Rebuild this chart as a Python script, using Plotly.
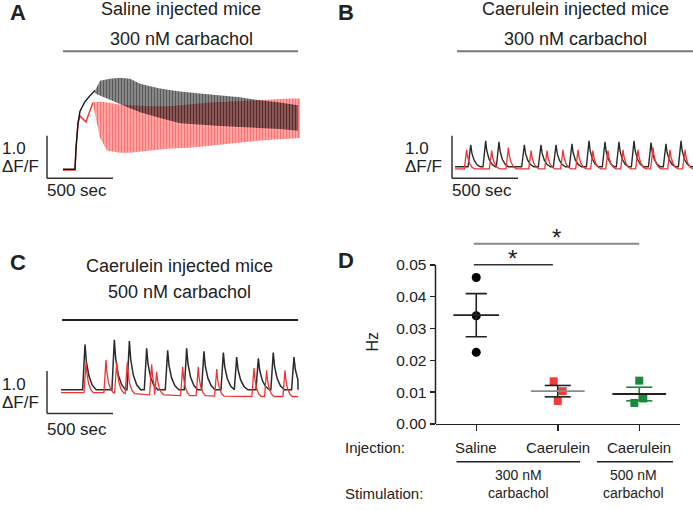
import plotly.graph_objects as go

W, H = 693, 510
def PX(x): return x / W
def PY(y): return 1 - y / H

FONT = "Liberation Sans, Arial, sans-serif"
INK = "#222222"
RED = "#f03434"
GREEN = "#178a3c"
GRAY = "#8a8a8a"
BAR_GRAY = "#777777"

# ---------------- data ----------------
# Panel A: saline-injected mice, 300 nM carbachol (time s, dF/F)
a_black_rise_t = [121, 212, 220, 235, 250, 288, 326, 364]
a_black_rise_y = [0.21, 0.21, 0.72, 1.30, 1.58, 1.81, 1.95, 2.07]
a_black_env_t = [364, 402, 477, 553, 629, 705, 856, 1008, 1159, 1311, 1462, 1614, 1765, 1902]
a_black_env_hi = [2.07, 2.30, 2.35, 2.37, 2.35, 2.23, 2.12, 2.05, 2.00, 1.95, 1.91, 1.84, 1.79, 1.72]
a_black_env_lo = [2.00, 1.95, 1.84, 1.74, 1.65, 1.56, 1.42, 1.30, 1.26, 1.23, 1.21, 1.19, 1.16, 1.12]
a_red_rise_t = [121, 212, 220, 235, 250, 273, 295, 326, 348]
a_red_rise_y = [0.19, 0.19, 0.72, 1.30, 1.47, 1.40, 1.33, 1.60, 1.79]
a_red_env_t = [348, 402, 455, 553, 629, 780, 932, 1083, 1235, 1386, 1538, 1690, 1841, 1917]
a_red_env_hi = [1.79, 1.81, 1.79, 1.74, 1.72, 1.70, 1.70, 1.74, 1.79, 1.81, 1.84, 1.86, 1.88, 1.88]
a_red_env_lo = [1.74, 0.95, 0.65, 0.60, 0.60, 0.65, 0.70, 0.72, 0.77, 0.81, 0.86, 0.91, 0.93, 0.95]

# Panel B: caerulein-injected mice, 300 nM carbachol (peak times s, peak dF/F)
b_span = [23, 1826]
b_black_peak_t = [142, 255, 356, 548, 674, 788, 909, 1038, 1159, 1265, 1379, 1508, 1621, 1735]
b_black_peak_y = [0.79, 0.88, 0.86, 0.79, 0.79, 0.79, 0.81, 0.88, 0.86, 0.86, 0.88, 0.84, 0.81, 0.88]
b_black_base = [0.27] * 14
b_red_peak_t = [111, 301, 427, 599, 720, 841, 955, 1068, 1182, 1296, 1409, 1523, 1652, 1765]
b_red_peak_y = [0.67, 0.65, 0.72, 0.65, 0.65, 0.67, 0.67, 0.65, 0.65, 0.67, 0.67, 0.72, 0.67, 0.67]
b_red_base = [0.22] * 14

# Panel C: caerulein-injected mice, 500 nM carbachol
c_span = [106, 1902]
c_black_peak_t = [288, 510, 624, 755, 914, 1058, 1189, 1336, 1437, 1601, 1714, 1871]
c_black_peak_y = [1.63, 1.74, 1.71, 1.54, 1.49, 1.54, 1.47, 1.44, 1.33, 1.30, 1.44, 1.33]
c_black_base = [0.56] * 12
c_red_peak_t = [296, 447, 528, 608, 793, 831, 1028, 1146, 1286, 1568, 1664, 1803]
c_red_peak_y = [1.21, 1.26, 1.21, 1.21, 1.16, 0.98, 1.10, 1.10, 1.05, 1.07, 1.02, 1.02]
c_red_base = [0.49, 0.49, 0.48, 0.47, 0.44, 0.44, 0.42, 0.42, 0.41, 0.40, 0.40, 0.40]

# Stimulus (carbachol) application, s
stim_a = [121, 1902]
stim_b = [38, 1826]
stim_c = [114, 1902]

# Panel D: oscillation frequency (Hz)
groups = ["Saline", "Caerulein", "Caerulein"]
group_pos = [1, 2, 3]
saline_hz = [0.046, 0.034, 0.0225]
cae300_hz = [0.0134, 0.0103, 0.0072]
cae500_hz = [0.0136, 0.0066, 0.0080]
saline_jit = [0.0, 0.0, 0.0]
cae300_jit = [-0.05, 0.06, 0.0]
cae500_jit = [0.0, -0.06, 0.05]
d_yticks = [0.00, 0.01, 0.02, 0.03, 0.04, 0.05]
sig_pairs = [(1, 2, 0.0500), (1, 3, 0.0566)]

# ---------------- helpers ----------------
PPS = 66 / 500.0   # px per second (scale bar 500 s)
PPU = 43 / 1.0     # px per dF/F (scale bar 1.0)

def trace_axes(box, origin):
    x0, x1, y0, y1 = box
    ox, oy = origin
    return (dict(domain=[PX(x0), PX(x1)], range=[(x0 - ox) / PPS, (x1 - ox) / PPS], visible=False),
            dict(domain=[PY(y1), PY(y0)], range=[(oy - y1) / PPU, (oy - y0) / PPU], visible=False))

def peak_trace(span, pt, py, base, rise, decay):
    shape = [(-rise, 0.0), (0.0, 1.0), (0.12 * decay, 0.62), (0.35 * decay, 0.30),
             (0.65 * decay, 0.10), (decay, 0.0)]
    xs, ys = [span[0]], [base[0]]
    for i, (tp, yp, b) in enumerate(zip(pt, py, base)):
        nxt = pt[i + 1] - rise if i + 1 < len(pt) else span[1]
        for dt, f in shape:
            t = tp + dt
            if dt > 0 and t >= nxt:
                break
            if dt < 0 and t < xs[-1]:
                continue
            xs.append(t)
            ys.append(b + f * (yp - b))
    if xs[-1] < span[1]:
        xs.append(span[1]); ys.append(base[-1])
    return xs, ys

fig = go.Figure()

# ---------- Panel A ----------
def band(t, hi, lo, color, bg, sol, ax):
    fig.add_trace(go.Scatter(x=t, y=hi, mode="lines", line=dict(width=0, color=color),
                             xaxis=ax[0], yaxis=ax[1], hoverinfo="skip"))
    fig.add_trace(go.Scatter(x=t, y=lo, mode="lines", line=dict(width=0, color=color),
                             fill="tonexty", fillcolor="rgba(0,0,0,0)",
                             fillpattern=dict(shape="|", fgcolor=color, bgcolor=bg,
                                              size=3, solidity=sol),
                             xaxis=ax[0], yaxis=ax[1], hoverinfo="skip"))

band(a_red_env_t, a_red_env_hi, a_red_env_lo, "#ff1f1f", "rgba(255,70,70,0.30)", 0.62, ("x", "y"))
fig.add_trace(go.Scatter(x=a_red_rise_t, y=a_red_rise_y, mode="lines",
                         line=dict(color=RED, width=1.4), xaxis="x", yaxis="y"))
band(a_black_env_t, a_black_env_hi, a_black_env_lo, "#000000", "rgba(0,0,0,0.30)", 0.65, ("x", "y"))
fig.add_trace(go.Scatter(x=a_black_rise_t, y=a_black_rise_y, mode="lines",
                         line=dict(color="#111111", width=1.4), xaxis="x", yaxis="y"))

# ---------- Panel B ----------
bx, by = peak_trace(b_span, b_black_peak_t, b_black_peak_y, b_black_base, 20, 72)
rx, ry = peak_trace(b_span, b_red_peak_t, b_red_peak_y, b_red_base, 18, 60)
fig.add_trace(go.Scatter(x=bx, y=by, mode="lines", line=dict(color="#2a2a2a", width=1.4),
                         xaxis="x2", yaxis="y2"))
fig.add_trace(go.Scatter(x=rx, y=ry, mode="lines", line=dict(color=RED, width=1.3),
                         xaxis="x2", yaxis="y2"))

# ---------- Panel C ----------
cbx, cby = peak_trace(c_span, c_black_peak_t, c_black_peak_y, c_black_base, 18, 85)
crx, cry = peak_trace(c_span, c_red_peak_t, c_red_peak_y, c_red_base, 16, 55)
fig.add_trace(go.Scatter(x=cbx, y=cby, mode="lines", line=dict(color="#2a2a2a", width=1.5),
                         xaxis="x3", yaxis="y3"))
fig.add_trace(go.Scatter(x=crx, y=cry, mode="lines", line=dict(color=RED, width=1.3),
                         xaxis="x3", yaxis="y3"))

# ---------- Panel D ----------
def mean_sem(v):
    n = len(v)
    m = sum(v) / n
    sd = (sum((a - m) ** 2 for a in v) / (n - 1)) ** 0.5
    return m, sd / n ** 0.5

fig.add_trace(go.Scatter(x=[group_pos[0] + j for j in saline_jit], y=saline_hz, mode="markers",
                         marker=dict(symbol="circle", size=9, color="#000000"),
                         xaxis="x4", yaxis="y4", cliponaxis=False))
fig.add_trace(go.Scatter(x=[group_pos[1] + j for j in cae300_jit], y=cae300_hz, mode="markers",
                         marker=dict(symbol="square", size=8, color="#f23c3c"),
                         xaxis="x4", yaxis="y4", cliponaxis=False))
fig.add_trace(go.Scatter(x=[group_pos[2] + j for j in cae500_jit], y=cae500_hz, mode="markers",
                         marker=dict(symbol="square", size=8, color=GREEN),
                         xaxis="x4", yaxis="y4", cliponaxis=False))

styles = [(INK, INK, 0.28, 0.13), (GRAY, INK, 0.33, 0.16), (INK, GREEN, 0.33, 0.16)]
for pos, vals, (mcol, ecol, mw, cw) in zip(group_pos, [saline_hz, cae300_hz, cae500_hz], styles):
    m, s = mean_sem(vals)
    fig.add_trace(go.Scatter(x=[pos - cw, pos + cw, None, pos - cw, pos + cw, None, pos, pos],
                             y=[m + s, m + s, None, m - s, m - s, None, m - s, m + s],
                             mode="lines", line=dict(color=ecol, width=1.6),
                             xaxis="x4", yaxis="y4"))
    fig.add_trace(go.Scatter(x=[pos - mw, pos + mw], y=[m, m], mode="lines",
                             line=dict(color=mcol, width=1.8), xaxis="x4", yaxis="y4"))

# ---------- layout ----------
ax_a = trace_axes((30, 315, 55, 200), (47, 181))
ax_b = trace_axes((440, 693, 55, 200), (452, 181))
ax_c = trace_axes((30, 315, 330, 445), (47, 420))

D_X0, D_X1 = 435.5, 680
D_Y0, D_TOP = 430.7, 230.2

shapes = []
def line(x0, y0, x1, y1, xref, yref, color=INK, width=1.5):
    shapes.append(dict(type="line", x0=x0, y0=y0, x1=x1, y1=y1, xref=xref, yref=yref,
                       line=dict(color=color, width=width)))

# scale bars
for xr, yr in (("x", "y"), ("x2", "y2"), ("x3", "y3")):
    line(0, 0, 0, 1.0, xr, yr, "#333333", 1.5)
    line(0, 0, 500, 0, xr, yr, "#333333", 1.5)
# carbachol bars
line(stim_a[0], PY(52), stim_a[1], PY(52), "x", "paper", BAR_GRAY, 2)
line(stim_b[0], PY(52), stim_b[1], PY(52), "x2", "paper", BAR_GRAY, 2)
line(stim_c[0], PY(325), stim_c[1], PY(325), "x3", "paper", INK, 2)
# D y-axis line (0 to 0.05)
line(PX(D_X0), 0, PX(D_X0), 0.05, "paper", "y4", INK, 1.5)
# significance bars
line(sig_pairs[0][0] - 0.03, sig_pairs[0][2], sig_pairs[0][1] - 0.06, sig_pairs[0][2], "x4", "y4", "#333333", 1.5)
line(sig_pairs[1][0] - 0.03, sig_pairs[1][2], sig_pairs[1][1], sig_pairs[1][2], "x4", "y4", GRAY, 1.8)
# group underlines
line(PX(456.5), PY(469), PX(580), PY(469), "paper", "paper", INK, 1.5)
line(PX(597), PY(469), PX(673), PY(469), "paper", "paper", INK, 1.5)

anns = []
def T(text, x, y, size=15, xanchor="center", bold=False, color=INK, angle=0):
    anns.append(dict(text=f"<b>{text}</b>" if bold else text, x=PX(x), y=PY(y),
                     xref="paper", yref="paper", xanchor=xanchor, yanchor="middle",
                     showarrow=False, textangle=angle,
                     font=dict(family=FONT, size=size, color=color)))

T("A", 18, 13, 22, bold=True)
T("Saline injected mice", 181, 9, 18)
T("300 nM carbachol", 181, 40, 18)
T("B", 346, 13, 22, bold=True)
T("Caerulein injected mice", 575, 9, 18)
T("300 nM carbachol", 575, 40, 18)
T("C", 18, 267, 22, bold=True)
T("Caerulein injected mice", 180, 270, 18)
T("500 nM carbachol", 180, 297, 18)
T("D", 346, 265, 22, bold=True)
for lx, ly in ((0, 151), (403, 151), (0, 391)):
    T("1.0", lx, ly, 17, xanchor="left")
    T("ΔF/F", lx, ly + 18, 17, xanchor="left")
T("500 sec", 45, 194, 17, xanchor="left")
T("500 sec", 450, 194, 17, xanchor="left")
T("500 sec", 45, 436, 17, xanchor="left")
T("Hz", 373, 347, 16, angle=-90)
T("Injection:", 343, 455, 15, xanchor="left")
T("Stimulation:", 343, 501, 15, xanchor="left")
for pos, name in zip(group_pos, groups):
    anns.append(dict(text=name, x=pos, y=PY(455), xref="x4", yref="paper", showarrow=False,
                     xanchor="center", yanchor="middle", font=dict(family=FONT, size=15, color=INK)))
T("300 nM<br>carbachol", 518, 492, 14)
T("500 nM<br>carbachol", 633, 492, 14)
for (g1, g2, yv), sx in zip(sig_pairs, (1.446, 1.984)):
    anns.append(dict(text="*", x=sx, y=yv, xref="x4", yref="y4", showarrow=False,
                     xanchor="center", yanchor="middle", yshift=6,
                     font=dict(family=FONT, size=24, color=INK)))

fig.update_layout(
    autosize=True, margin=dict(l=0, r=0, t=0, b=0, pad=0),
    paper_bgcolor="white", plot_bgcolor="rgba(0,0,0,0)", showlegend=False,
    hovermode=False,
    xaxis=dict(ax_a[0], anchor="y"), yaxis=dict(ax_a[1], anchor="x"),
    xaxis2=dict(ax_b[0], anchor="y2"), yaxis2=dict(ax_b[1], anchor="x2"),
    xaxis3=dict(ax_c[0], anchor="y3"), yaxis3=dict(ax_c[1], anchor="x3"),
    xaxis4=dict(domain=[PX(D_X0), PX(D_X1)], range=[0.5, 3.5], anchor="y4",
                showline=True, linecolor=INK, linewidth=1.5, ticks="outside",
                tickvals=group_pos, ticklen=6, tickwidth=1.5, tickcolor=INK,
                showticklabels=False, showgrid=False, zeroline=False),
    yaxis4=dict(domain=[PY(D_Y0), PY(D_TOP)], range=[0, 0.05 * (D_Y0 - D_TOP) / (D_Y0 - 269.0)],
                anchor="x4", showline=False, ticks="outside", tickvals=d_yticks,
                ticktext=[f"{v:.2f}" for v in d_yticks], ticklen=5, tickwidth=1.5,
                tickcolor=INK, tickfont=dict(family=FONT, size=15.5, color=INK),
                showgrid=False, zeroline=False),
    shapes=shapes, annotations=anns,
)

page_fix = (
    "document.documentElement.style.margin='0px';"
    "document.documentElement.style.overflow='hidden';"
    "document.body.style.margin='0px';"
    "document.body.style.overflow='hidden';"
    "var gd=document.getElementsByClassName('plotly-graph-div')[0];"
    "gd.style.position='fixed';gd.style.left='0px';gd.style.top='0px';"
)
fig.write_html("out.html", config={"displayModeBar": False, "staticPlot": True},
               default_width="100vw", default_height="100vh",
               post_script=page_fix)
